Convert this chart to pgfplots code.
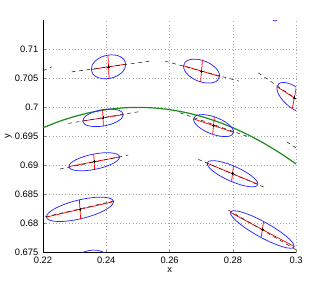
\documentclass[border=0pt]{standalone}
\usepackage{fontspec}
\setmainfont{Liberation Sans}
\usepackage{pgfplots}
\pgfplotsset{compat=1.18}
\definecolor{mgreen}{rgb}{0.1,0.55,0.1}
\tikzset{
  ell/.style={blue!85, line width=0.55pt, smooth cycle, tension=0.68},
  ax/.style={red, line width=0.55pt},
  tr/.style={black!85, line width=0.42pt, dash pattern=on 2.8pt off 2.8pt}
}
\begin{document}
\begin{tikzpicture}
\useasboundingbox (-32.25pt,-23.8pt) rectangle (213pt,189.2pt);
\begin{axis}[
  scale only axis, width=189.9pt, height=173.85pt,
  xmin=0.22, xmax=0.3, ymin=0.675, ymax=0.715,
  axis x line*=bottom, axis y line*=left,
  xtick={0.22,0.24,0.26,0.28,0.3},
  xticklabels={0.22,0.24,0.26,0.28,0.3},
  ytick={0.675,0.68,0.685,0.69,0.695,0.7,0.705,0.71},
  yticklabels={0.675,0.68,0.685,0.69,0.695,0.7,0.705,0.71},
  tick align=inside, major tick length=2pt,
  grid=major, grid style={dotted, gray!70, line width=0.4pt},
  ticklabel style={font=\fontsize{7}{8}\selectfont},
  xlabel={x}, ylabel={y},
  every axis x label/.style={at={(axis description cs:0.5,-0.078)}, anchor=center, font=\fontsize{7}{8}\selectfont},
  every axis y label/.style={at={(axis description cs:-0.137,0.5)}, rotate=90, anchor=center, font=\fontsize{7}{8}\selectfont},
  axis line style={line width=0.5pt},
]
% green curve
\addplot[mgreen, line width=0.9pt, smooth] coordinates {
 (0.220,0.696481)(0.225,0.697556)(0.230,0.698436)(0.235,0.699120)
 (0.240,0.699609)(0.245,0.699902)(0.250,0.700000)(0.255,0.699902)
 (0.260,0.699609)(0.265,0.699120)(0.270,0.698436)(0.275,0.697556)
 (0.280,0.696481)(0.285,0.695210)(0.290,0.693744)(0.295,0.692082)
 (0.300,0.690225)};
% ellipses
\addplot[ell] coordinates {(0.246167,0.707465)(0.244445,0.708754)(0.240529,0.709015)(0.236713,0.708096)(0.235233,0.706535)(0.236955,0.705246)(0.240871,0.704985)(0.244687,0.705904)};
\addplot[ell] coordinates {(0.245375,0.698752)(0.243411,0.699589)(0.238840,0.699612)(0.234339,0.698808)(0.232545,0.697648)(0.234509,0.696811)(0.239080,0.696788)(0.243581,0.697592)};
\addplot[ell] coordinates {(0.275778,0.705346)(0.274320,0.706925)(0.270384,0.708115)(0.266276,0.708218)(0.264402,0.707174)(0.265860,0.705595)(0.269796,0.704405)(0.273904,0.704302)};
\addplot[ell] coordinates {(0.304877,0.699754)(0.303723,0.701626)(0.300042,0.703512)(0.295991,0.704307)(0.293943,0.703546)(0.295097,0.701674)(0.298778,0.699788)(0.302829,0.698993)};
\addplot[ell] coordinates {(0.280200,0.695705)(0.278541,0.697111)(0.274152,0.698370)(0.269603,0.698744)(0.267560,0.698015)(0.269219,0.696609)(0.273608,0.695350)(0.278157,0.694976)};
\addplot[ell] coordinates {(0.244175,0.691448)(0.241737,0.692143)(0.236044,0.691946)(0.230431,0.690972)(0.228185,0.689792)(0.230623,0.689097)(0.236316,0.689294)(0.241929,0.690268)};
\addplot[ell] coordinates {(0.242276,0.683737)(0.239033,0.684504)(0.231488,0.684044)(0.224062,0.682627)(0.221104,0.681083)(0.224347,0.680316)(0.231892,0.680776)(0.239318,0.682193)};
\addplot[ell] coordinates {(0.287875,0.686740)(0.285748,0.688226)(0.280183,0.689902)(0.274441,0.690786)(0.271885,0.690360)(0.274012,0.688874)(0.279577,0.687198)(0.285319,0.686314)};
\addplot[ell] coordinates {(0.299349,0.675999)(0.296687,0.677833)(0.289698,0.680309)(0.282476,0.681978)(0.279251,0.681861)(0.281913,0.680027)(0.288902,0.677551)(0.296124,0.675882)};
\addplot[ell] coordinates {(0.242000,0.672300)(0.239803,0.674753)(0.234500,0.675300)(0.229197,0.673621)(0.227000,0.670700)(0.229197,0.668247)(0.234500,0.667700)(0.239803,0.669379)};
\addplot[ell] coordinates {(0.295000,0.717000)(0.294400,0.718520)(0.293300,0.719150)(0.292200,0.718520)(0.291600,0.717000)(0.292200,0.715480)(0.293300,0.714900)(0.294400,0.715480)};
% red axes
\addplot[ax] coordinates {(0.235233,0.706535)(0.246167,0.707465)};
\addplot[ax] coordinates {(0.240871,0.704985)(0.240529,0.709015)};
\addplot[ax] coordinates {(0.232545,0.697648)(0.245375,0.698752)};
\addplot[ax] coordinates {(0.239080,0.696788)(0.238840,0.699612)};
\addplot[ax] coordinates {(0.264402,0.707174)(0.275778,0.705346)};
\addplot[ax] coordinates {(0.269796,0.704405)(0.270384,0.708115)};
\addplot[ax] coordinates {(0.293943,0.703546)(0.304877,0.699754)};
\addplot[ax] coordinates {(0.298778,0.699788)(0.300042,0.703512)};
\addplot[ax] coordinates {(0.267560,0.698015)(0.280200,0.695705)};
\addplot[ax] coordinates {(0.273608,0.695350)(0.274152,0.698370)};
\addplot[ax] coordinates {(0.228185,0.689792)(0.244175,0.691448)};
\addplot[ax] coordinates {(0.236316,0.689294)(0.236044,0.691946)};
\addplot[ax] coordinates {(0.221104,0.681083)(0.242276,0.683737)};
\addplot[ax] coordinates {(0.231892,0.680776)(0.231488,0.684044)};
\addplot[ax] coordinates {(0.271885,0.690360)(0.287875,0.686740)};
\addplot[ax] coordinates {(0.279577,0.687198)(0.280183,0.689902)};
\addplot[ax] coordinates {(0.279251,0.681861)(0.299349,0.675999)};
\addplot[ax] coordinates {(0.288902,0.677551)(0.289698,0.680309)};
% dashed tracks
\addplot[tr] coordinates {(0.22907,0.70613)(0.25381,0.70798)};
\addplot[tr] coordinates {(0.2200,0.70635)(0.2228,0.7070)};
\addplot[tr] coordinates {(0.22800,0.69724)(0.25012,0.69924)};
\addplot[tr] coordinates {(0.25855,0.70798)(0.28194,0.70453)};
\addplot[tr] coordinates {(0.28803,0.70596)(0.3030,0.70030)};
\addplot[tr] coordinates {(0.26329,0.69907)(0.28487,0.69493)};
\addplot[tr] coordinates {(0.29701,0.69407)(0.30017,0.69293)};
\addplot[tr] coordinates {(0.22537,0.68936)(0.24696,0.69178)};
\addplot[tr] coordinates {(0.2206,0.68110)(0.2424,0.68386)};
\addplot[tr] coordinates {(0.26907,0.69103)(0.29068,0.68603)};
\addplot[tr] coordinates {(0.27856,0.68229)(0.30006,0.67539)};
% centres
\addplot[only marks, mark=+, black, mark size=1.1pt, mark options={line width=0.4pt}] coordinates {
 (0.24070,0.70700)(0.23896,0.69820)(0.27009,0.70626)(0.29941,0.70165)(0.27388,0.69686)
 (0.23618,0.69062)(0.23169,0.68241)(0.27988,0.68855)(0.28930,0.67893)};
\end{axis}
\end{tikzpicture}
\end{document}
